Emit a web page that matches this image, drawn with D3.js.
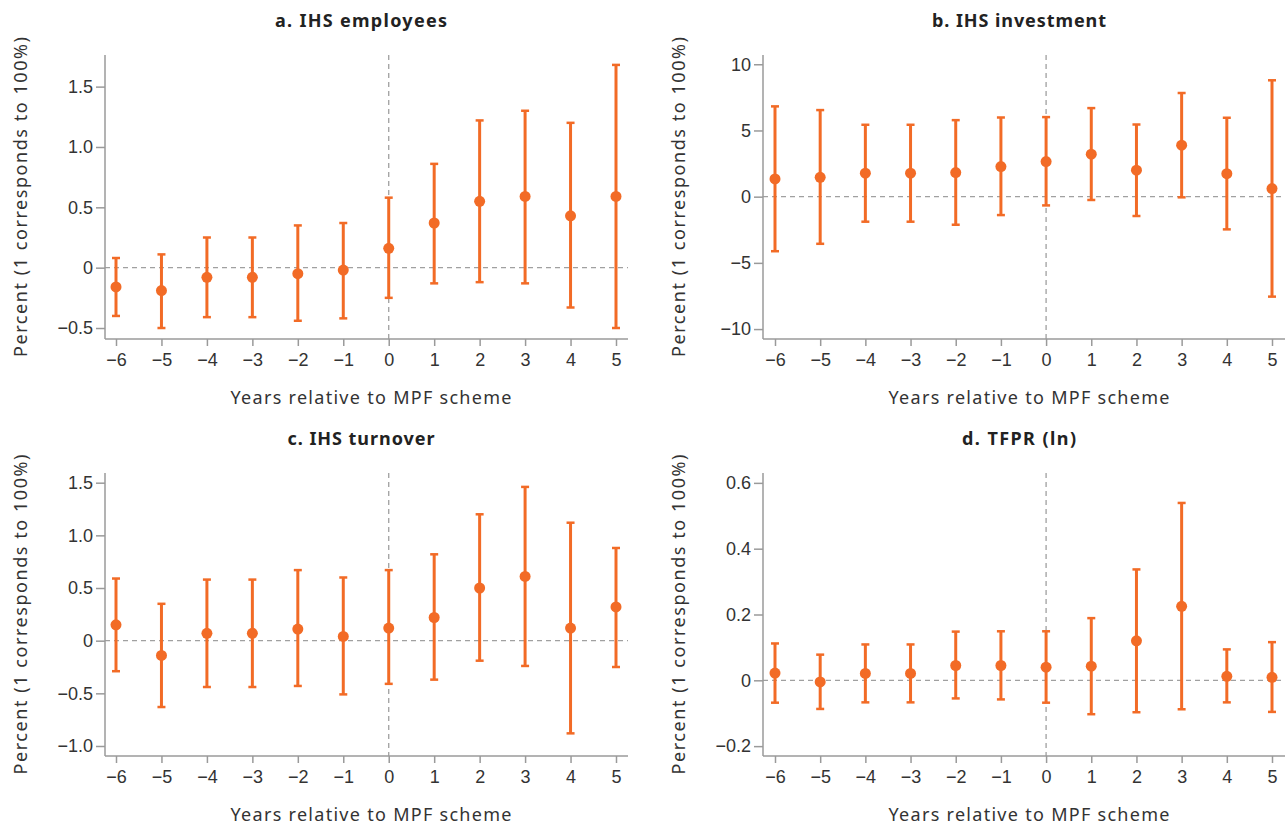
<!DOCTYPE html>
<html>
<head>
<meta charset="UTF-8">
<script src="https://d3js.org/d3.v7.min.js"></script>
<style>
  body {
    margin: 0;
    padding: 0;
    background: #fff;
    font-family: 'Noto Sans', sans-serif;
  }
  .axis path, .axis line {
    stroke: #9a9a9a;
    stroke-width: 1.5;
  }
  .axis text {
    fill: #333;
    font-size: 18px;
  }
  .panel-title {
    font-weight: bold;
    font-size: 18px;
    fill: #222;
  }
  .axis-title {
    font-size: 18px;
    fill: #333;
  }
  .ref-line {
    stroke: #a0a0a0;
    stroke-width: 1.3;
    stroke-dasharray: 5,4;
  }
</style>
</head>
<body>
<div id="chart"></div>
<script>
  const years = [-6, -5, -4, -3, -2, -1, 0, 1, 2, 3, 4, 5];

  // a. IHS employees
  const empEst = [-0.16, -0.19, -0.08, -0.08, -0.05, -0.02, 0.16, 0.37, 0.55, 0.59, 0.43, 0.59];
  const empLo  = [-0.40, -0.50, -0.41, -0.41, -0.44, -0.42, -0.25, -0.13, -0.12, -0.13, -0.33, -0.50];
  const empHi  = [0.08, 0.11, 0.25, 0.25, 0.35, 0.37, 0.58, 0.86, 1.22, 1.30, 1.20, 1.68];

  // b. IHS investment
  const invEst = [1.34, 1.46, 1.77, 1.77, 1.82, 2.27, 2.65, 3.21, 2.00, 3.89, 1.74, 0.61];
  const invLo  = [-4.12, -3.56, -1.89, -1.89, -2.12, -1.39, -0.66, -0.25, -1.46, -0.05, -2.47, -7.55];
  const invHi  = [6.82, 6.54, 5.43, 5.43, 5.78, 5.98, 6.01, 6.69, 5.45, 7.83, 5.96, 8.79];

  // c. IHS turnover
  const turnEst = [0.15, -0.14, 0.07, 0.07, 0.11, 0.04, 0.12, 0.22, 0.50, 0.61, 0.12, 0.32];
  const turnLo  = [-0.29, -0.63, -0.44, -0.44, -0.43, -0.51, -0.41, -0.37, -0.19, -0.24, -0.88, -0.25];
  const turnHi  = [0.59, 0.35, 0.58, 0.58, 0.67, 0.60, 0.67, 0.82, 1.20, 1.46, 1.12, 0.88];

  // d. TFPR (ln)
  const tfprEst = [0.022, -0.005, 0.021, 0.021, 0.045, 0.045, 0.040, 0.043, 0.120, 0.225, 0.012, 0.009];
  const tfprLo  = [-0.068, -0.087, -0.067, -0.067, -0.055, -0.058, -0.068, -0.103, -0.097, -0.088, -0.067, -0.096];
  const tfprHi  = [0.112, 0.078, 0.109, 0.109, 0.148, 0.149, 0.149, 0.189, 0.337, 0.539, 0.094, 0.116];

  const empTicks = [-0.5, 0, 0.5, 1.0, 1.5];
  const invTicks = [-10, -5, 0, 5, 10];
  const turnTicks = [-1.0, -0.5, 0, 0.5, 1.0, 1.5];
  const tfprTicks = [-0.2, 0, 0.2, 0.4, 0.6];

  const orange = "#f26b26";
  const width = 1285, height = 827;

  const svg = d3.select("#chart").append("svg")
    .attr("width", width)
    .attr("height", height);

  const panels = [
    { title: "a. IHS employees", titleLen: 172, est: empEst, lo: empLo, hi: empHi, ticks: empTicks,
      fmt: d => d === 0 ? "0" : d3.format(".1f")(d),
      yDomain: [-0.591, 1.762], x0: 105, x1: 628, xFirst: 116, xLast: 616, top: 55, bottom: 339 },
    { title: "b. IHS investment", titleLen: 174, est: invEst, lo: invLo, hi: invHi, ticks: invTicks,
      fmt: d => d3.format("d")(d),
      yDomain: [-10.75, 10.7], x0: 763, x1: 1285, xFirst: 775, xLast: 1272, top: 55, bottom: 339 },
    { title: "c. IHS turnover", titleLen: 147, est: turnEst, lo: turnLo, hi: turnHi, ticks: turnTicks,
      fmt: d => d === 0 ? "0" : d3.format(".1f")(d),
      yDomain: [-1.095, 1.592], x0: 105, x1: 628, xFirst: 116, xLast: 616, top: 473, bottom: 756 },
    { title: "d. TFPR (ln)", titleLen: 114, est: tfprEst, lo: tfprLo, hi: tfprHi, ticks: tfprTicks,
      fmt: d => d === 0 ? "0" : d3.format(".1f")(d),
      yDomain: [-0.23, 0.63], x0: 763, x1: 1285, xFirst: 775, xLast: 1272, top: 473, bottom: 756 }
  ];

  panels.forEach(p => drawPanel(p));

  function drawPanel(p) {
    const x = d3.scaleLinear().domain([-6, 5]).range([p.xFirst, p.xLast]);
    const y = d3.scaleLinear().domain(p.yDomain).range([p.bottom, p.top]);
    const g = svg.append("g");
    const mid = p.x0 + 261;

    // reference lines
    g.append("line").attr("class", "ref-line")
      .attr("x1", p.x0).attr("x2", p.x1)
      .attr("y1", y(0)).attr("y2", y(0));
    g.append("line").attr("class", "ref-line")
      .attr("x1", x(0)).attr("x2", x(0))
      .attr("y1", p.top).attr("y2", p.bottom);

    // y axis
    const yAxis = g.append("g").attr("class", "axis")
      .attr("transform", `translate(${p.x0},0)`)
      .call(d3.axisLeft(y).tickValues(p.ticks).tickFormat(p.fmt).tickSize(9).tickPadding(3).tickSizeOuter(0));
    yAxis.select(".domain").attr("d", `M0,${p.top}V${p.bottom}`);
    yAxis.selectAll("text").text(function() { return d3.select(this).text().replace("-", "\u2212"); });

    // x axis
    const xAxis = g.append("g").attr("class", "axis")
      .attr("transform", `translate(0,${p.bottom})`)
      .call(d3.axisBottom(x).tickValues(years).tickSize(7).tickPadding(7).tickSizeOuter(0));
    xAxis.select(".domain").attr("d", `M${p.x0},0H${p.x1}`);
    xAxis.selectAll("text").text(d => d < 0 ? "\u2212" + Math.abs(d) : d);

    // error bars
    const bars = g.selectAll(".bar").data(years).enter().append("g");
    bars.append("line")
      .attr("x1", d => x(d)).attr("x2", d => x(d))
      .attr("y1", (d, i) => y(p.lo[i])).attr("y2", (d, i) => y(p.hi[i]))
      .attr("stroke", orange).attr("stroke-width", 3);
    bars.append("line")
      .attr("x1", d => x(d) - 4).attr("x2", d => x(d) + 4)
      .attr("y1", (d, i) => y(p.lo[i])).attr("y2", (d, i) => y(p.lo[i]))
      .attr("stroke", orange).attr("stroke-width", 2.5);
    bars.append("line")
      .attr("x1", d => x(d) - 4).attr("x2", d => x(d) + 4)
      .attr("y1", (d, i) => y(p.hi[i])).attr("y2", (d, i) => y(p.hi[i]))
      .attr("stroke", orange).attr("stroke-width", 2.5);
    bars.append("circle")
      .attr("cx", d => x(d)).attr("cy", (d, i) => y(p.est[i]))
      .attr("r", 5.5).attr("fill", orange);

    // titles
    g.append("text").attr("class", "panel-title")
      .attr("x", mid - 5).attr("y", p.top - 28)
      .attr("text-anchor", "middle")
      .attr("textLength", p.titleLen).attr("lengthAdjust", "spacing")
      .text(p.title);
    g.append("text").attr("class", "axis-title")
      .attr("x", mid + 5).attr("y", p.bottom + 65)
      .attr("text-anchor", "middle")
      .attr("textLength", 281).attr("lengthAdjust", "spacing")
      .text("Years relative to MPF scheme");
    g.append("text").attr("class", "axis-title")
      .attr("transform", `translate(${p.x0 - 78},${(p.top + p.bottom) / 2}) rotate(-90)`)
      .attr("text-anchor", "middle")
      .attr("textLength", 320).attr("lengthAdjust", "spacing")
      .text("Percent (1 corresponds to 100%)");
  }
</script>
</body>
</html>
